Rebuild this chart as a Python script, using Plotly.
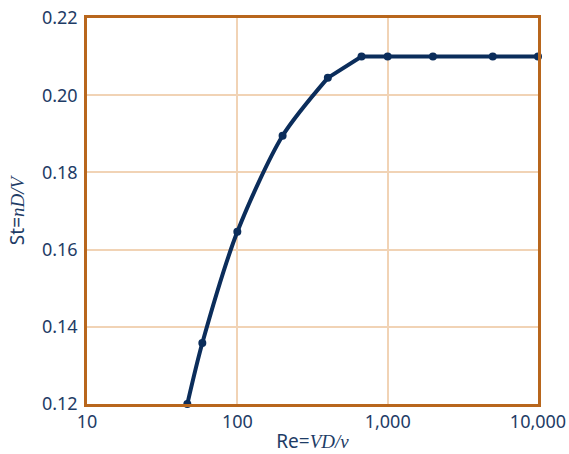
import plotly.graph_objects as go

re_vals = [46.5, 58.5, 100, 200, 400, 670, 1000, 2000, 5000, 10000]
st_vals = [0.120, 0.1358, 0.1646, 0.1895, 0.2045, 0.210, 0.210, 0.210, 0.210, 0.210]

x_tickvals = [10, 100, 1000, 10000]
x_ticktext = ["10", "100", "1,000", "10,000"]
y_tickvals = [0.12, 0.14, 0.16, 0.18, 0.20, 0.22]
y_ticktext = ["0.12", "0.14", "0.16", "0.18", "0.20", "0.22"]

navy = "#0b2d5b"
text_col = "#1e3c66"
frame = "#b8661c"
grid = "#f1d3b5"

fig = go.Figure()
fig.add_trace(go.Scatter(
    x=re_vals[:5], y=st_vals[:5], mode="lines",
    line=dict(color=navy, width=4, shape="spline", smoothing=0.8),
    hoverinfo="skip", showlegend=False, cliponaxis=False))
fig.add_trace(go.Scatter(
    x=re_vals[4:], y=st_vals[4:], mode="lines",
    line=dict(color=navy, width=4),
    hoverinfo="skip", showlegend=False, cliponaxis=False))
fig.add_trace(go.Scatter(
    x=re_vals, y=st_vals, mode="markers",
    marker=dict(color=navy, size=8),
    showlegend=False, cliponaxis=False))

fig.update_layout(
    width=569, height=454,
    margin=dict(l=87, r=31, t=18, b=50, autoexpand=False),
    paper_bgcolor="white", plot_bgcolor="white",
    font=dict(family="Noto Sans", size=18, color=text_col),
    xaxis=dict(
        type="log", range=[1, 4], automargin=False,
        tickvals=x_tickvals, ticktext=x_ticktext,
        showgrid=True, gridcolor=grid, gridwidth=1.5,
        showline=True, mirror=True, linecolor=frame, linewidth=2.5,
        ticks="", zeroline=False,
        tickfont=dict(size=18, color=text_col),
        title=dict(text="Re=<i><span style='font-family:Liberation Serif'>VD/ν</span></i>",
                   font=dict(size=19, color=text_col), standoff=5),
    ),
    yaxis=dict(
        range=[0.12, 0.22], automargin=False,
        tickvals=y_tickvals, ticktext=y_ticktext,
        showgrid=True, gridcolor=grid, gridwidth=1.5,
        showline=True, mirror=True, linecolor=frame, linewidth=2.5,
        ticks="", zeroline=False, ticklabelstandoff=3,
        tickfont=dict(size=18, color=text_col),
        title=dict(text="St=<i><span style='font-family:Liberation Serif'>nD/V</span></i>",
                   font=dict(size=19, color=text_col), standoff=13),
    ),
)

fig.write_html("out.html", config={"displayModeBar": False},
               post_script="document.body.style.margin='0px';")
